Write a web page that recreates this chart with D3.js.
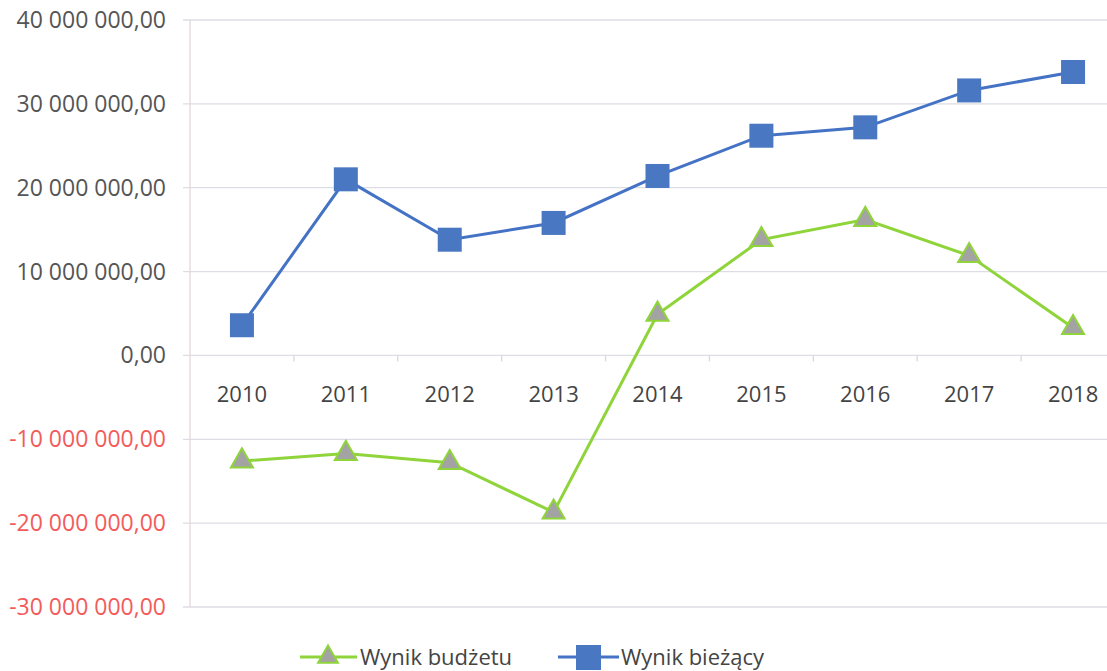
<!DOCTYPE html>
<html lang="pl">
<head>
<meta charset="UTF-8">
<title>Wynik budżetu i wynik bieżący</title>
<script src="https://cdn.jsdelivr.net/npm/d3@7"></script>
<style>
  body { margin: 0; background: #fff; }
  svg text { font-family: "Open Sans", "Liberation Sans", sans-serif; }
  .grid line { stroke: #dddde6; stroke-width: 1.3px; }
</style>
</head>
<body>
<svg width="1107" height="671"></svg>
<script>
// data
var years = ["2010", "2011", "2012", "2013", "2014", "2015", "2016", "2017", "2018"];
var wynikBudzetu = [-12.6e6, -11.7e6, -12.8e6, -18.7e6, 4.9e6, 13.8e6, 16.2e6, 11.9e6, 3.3e6];
var wynikBiezacy = [3.6e6, 21.0e6, 13.8e6, 15.8e6, 21.4e6, 26.2e6, 27.2e6, 31.6e6, 33.8e6];
var yTicks = [-30e6, -20e6, -10e6, 0, 10e6, 20e6, 30e6, 40e6];
var seriesNames = ["Wynik budżetu", "Wynik bieżący"];

var svg = d3.select("svg");

var x = d3.scaleBand()
    .domain(years)
    .range([190, 1125]);

var y = d3.scaleLinear()
    .domain([-30e6, 40e6])
    .range([607, 20]);

function fmt(v) {
    var s = d3.format(",.2f")(v);
    return s.replace(/,/g, " ").replace(".", ",").replace("−", "-");
}

// horizontal gridlines
svg.append("g")
    .attr("class", "grid")
    .selectAll("line")
    .data(yTicks)
    .enter()
    .append("line")
    .attr("x1", 183)
    .attr("x2", 1107)
    .attr("y1", function (d) { return y(d); })
    .attr("y2", function (d) { return y(d); });

// vertical axis line
svg.append("line")
    .attr("x1", 190).attr("x2", 190)
    .attr("y1", y(40e6)).attr("y2", y(-30e6))
    .attr("stroke", "#e2d6da")
    .attr("stroke-width", 1.3);

// y labels
svg.append("g")
    .selectAll("text")
    .data(yTicks)
    .enter()
    .append("text")
    .attr("x", 166)
    .attr("y", function (d) { return y(d); })
    .attr("dy", "0.35em")
    .attr("text-anchor", "end")
    .attr("font-size", 23)
    .attr("fill", function (d) { return d < 0 ? "#f35b5b" : "#555"; })
    .text(fmt);

// category axis on the zero line
var xAxis = svg.append("g")
    .attr("transform", "translate(0," + y(0) + ")")
    .call(d3.axisBottom(x).tickSize(0).tickPadding(31));
xAxis.select(".domain").remove();
xAxis.selectAll("text")
    .attr("font-size", 22)
    .attr("fill", "#444")
    .attr("font-family", "Open Sans");
svg.append("g")
    .selectAll("line")
    .data(years.slice(1))
    .enter()
    .append("line")
    .attr("x1", function (d) { return x(d); })
    .attr("x2", function (d) { return x(d); })
    .attr("y1", y(0))
    .attr("y2", y(0) + 6)
    .attr("stroke", "#d8d8e0")
    .attr("stroke-width", 1.3);

var line = d3.line()
    .x(function (d, i) { return x(years[i]) + x.bandwidth() / 2; })
    .y(function (d) { return y(d); });

var tri = d3.symbol().type(d3.symbolTriangle).size(210);

// Wynik bieżący
svg.append("path")
    .datum(wynikBiezacy)
    .attr("d", line)
    .attr("fill", "none")
    .attr("stroke", "#4472c4")
    .attr("stroke-width", 3);
svg.append("g")
    .selectAll("rect")
    .data(wynikBiezacy)
    .enter()
    .append("rect")
    .attr("x", function (d, i) { return x(years[i]) + x.bandwidth() / 2 - 12; })
    .attr("y", function (d) { return y(d) - 12; })
    .attr("width", 24)
    .attr("height", 24)
    .attr("fill", "#4a77c2");

// Wynik budżetu
svg.append("path")
    .datum(wynikBudzetu)
    .attr("d", line)
    .attr("fill", "none")
    .attr("stroke", "#8fd43a")
    .attr("stroke-width", 3);
svg.append("g")
    .selectAll("path")
    .data(wynikBudzetu)
    .enter()
    .append("path")
    .attr("d", tri)
    .attr("transform", function (d, i) {
        return "translate(" + (x(years[i]) + x.bandwidth() / 2) + "," + y(d) + ")";
    })
    .attr("fill", "#a3a3a3")
    .attr("stroke", "#8fd43a")
    .attr("stroke-width", 2);

// legend
var legend = svg.append("g").attr("transform", "translate(0,657)");
legend.append("line")
    .attr("x1", 300).attr("x2", 357)
    .attr("stroke", "#8fd43a").attr("stroke-width", 3);
legend.append("path")
    .attr("d", d3.symbol().type(d3.symbolTriangle).size(170))
    .attr("transform", "translate(328,0)")
    .attr("fill", "#a3a3a3")
    .attr("stroke", "#8fd43a")
    .attr("stroke-width", 2);
legend.append("text")
    .attr("x", 360).attr("dy", "0.35em")
    .attr("font-size", 22).attr("fill", "#444")
    .text(seriesNames[0]);
legend.append("line")
    .attr("x1", 558).attr("x2", 619)
    .attr("stroke", "#4472c4").attr("stroke-width", 3);
legend.append("rect")
    .attr("x", 576).attr("y", -12)
    .attr("width", 25).attr("height", 25)
    .attr("fill", "#4a77c2");
legend.append("text")
    .attr("x", 621).attr("dy", "0.35em")
    .attr("font-size", 22).attr("fill", "#444")
    .text(seriesNames[1]);
</script>
</body>
</html>
